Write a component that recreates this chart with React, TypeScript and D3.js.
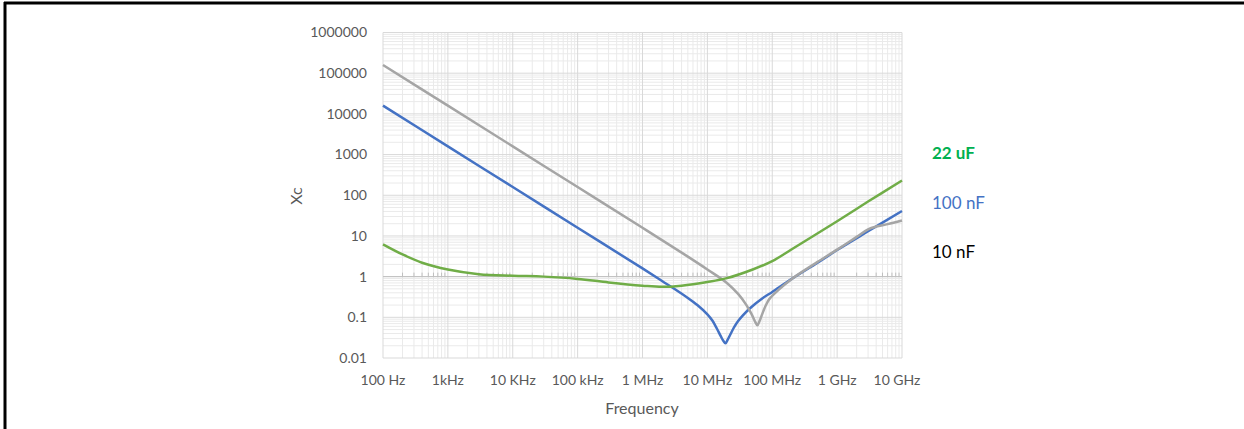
import React from "react";
import * as d3 from "d3";

// frequency (Hz) and reactance Xc (ohm)
const cap10nF: [number, number][] = [
  [1e2, 159000], [1e3, 15900], [1e4, 1590], [1e5, 159], [1e6, 15.9],
  [5e6, 3.1], [1e7, 1.5], [2e7, 0.7], [3e7, 0.37], [4e7, 0.2],
  [4.8e7, 0.12], [5.4e7, 0.08], [5.9e7, 0.064], [6.4e7, 0.082], [7e7, 0.12],
  [8e7, 0.2], [9e7, 0.28], [1.3e8, 0.5], [2e8, 0.88],
  [5e8, 2.3], [1e9, 4.6], [2e9, 9.5], [3e9, 14.5], [4e9, 17], [6e9, 19.5], [1e10, 24],
];
const cap100nF: [number, number][] = [
  [1e2, 15900], [1e3, 1590], [1e4, 159], [1e5, 15.9], [1e6, 1.59],
  [2e6, 0.78], [3e6, 0.52], [5e6, 0.3], [7e6, 0.2], [1e7, 0.118],
  [1.2e7, 0.082], [1.4e7, 0.053], [1.6e7, 0.035], [1.75e7, 0.027], [1.9e7, 0.023],
  [2.05e7, 0.028], [2.3e7, 0.04], [2.6e7, 0.058], [3e7, 0.082], [3.5e7, 0.11],
  [4.5e7, 0.165], [7e7, 0.29], [1e8, 0.42],
  [2e8, 0.88], [5e8, 2.2], [1e9, 4.5], [3e9, 13], [1e10, 41],
];
const cap22uF: [number, number][] = [
  [1e2, 6.2], [2e2, 3.5], [4e2, 2.2], [1e3, 1.5], [3e3, 1.15], [1e4, 1.05],
  [3e4, 1.0], [1e5, 0.88], [3e5, 0.72], [1e6, 0.6], [2e6, 0.56], [4e6, 0.6],
  [1e7, 0.74], [2e7, 0.92], [5e7, 1.5], [1e8, 2.4], [2e8, 4.7], [1e9, 23],
  [3e9, 70], [1e10, 230],
];

const xTickValues = [1e2, 1e3, 1e4, 1e5, 1e6, 1e7, 1e8, 1e9, 1e10];
const xTickLabels = ["100 Hz", "1kHz", "10 KHz", "100 kHz", "1 MHz", "10 MHz", "100 MHz", "1 GHz", "10 GHz"];
const yTickValues = [0.01, 0.1, 1, 10, 100, 1000, 10000, 100000, 1000000];
const yTickLabels = ["0.01", "0.1", "1", "10", "100", "1000", "10000", "100000", "1000000"];

const series = [
  { name: "100 nF", data: cap100nF, color: "#4472C4", labelColor: "#4472C4", bold: false, labelY: 203 },
  { name: "10 nF", data: cap10nF, color: "#A5A5A5", labelColor: "#000000", bold: false, labelY: 252 },
  { name: "22 uF", data: cap22uF, color: "#70AD47", labelColor: "#00B050", bold: true, labelY: 153 },
];

const W = 1244;
const H = 429;
const left = 383;
const right = 902;
const top = 32.5;
const bottom = 358;
const font = "Lato, 'Open Sans', sans-serif";

export default function App() {
  const x = d3.scaleLog().domain([1e2, 1e10]).range([left, right]);
  const y = d3.scaleLog().domain([0.01, 1e6]).range([bottom, top]);

  const minorX = xTickValues.slice(0, -1).flatMap((d) => d3.range(2, 10).map((k) => d * k));
  const minorY = yTickValues.slice(0, -1).flatMap((d) => d3.range(2, 10).map((k) => d * k));

  const line = d3
    .line<[number, number]>()
    .x((d) => x(d[0]))
    .y((d) => y(d[1]))
    .curve(d3.curveCatmullRom.alpha(0.5));

  const legendOrder = [series[2], series[0], series[1]];

  return (
    <svg width={W} height={H} style={{ position: "absolute", left: 0, top: 0, background: "#fff" }}>
      {/* frame */}
      <line x1={4} x2={W} y1={3} y2={3} stroke="#000" strokeWidth={3} />
      <line x1={5} x2={5} y1={2} y2={H} stroke="#000" strokeWidth={3} />

      {/* minor grid */}
      <g stroke="#EAEAEA" strokeWidth={1}>
        {minorX.map((d) => (
          <line key={"mx" + d} x1={x(d)} x2={x(d)} y1={top} y2={bottom} />
        ))}
        {minorY.map((d) => (
          <line key={"my" + d} x1={left} x2={right} y1={y(d)} y2={y(d)} />
        ))}
      </g>
      {/* major grid */}
      <g stroke="#D9D9D9" strokeWidth={1}>
        {xTickValues.map((d) => (
          <line key={"gx" + d} x1={x(d)} x2={x(d)} y1={top} y2={bottom} />
        ))}
        {yTickValues.map((d) => (
          <line key={"gy" + d} x1={left} x2={right} y1={y(d)} y2={y(d)} />
        ))}
      </g>

      {/* horizontal axis crossing at 1 */}
      <g stroke="#BFBFBF" strokeWidth={1}>
        <line x1={left} x2={right} y1={y(1)} y2={y(1)} />
        {minorX.map((d) => (
          <line key={"tk" + d} x1={x(d)} x2={x(d)} y1={y(1)} y2={y(1) - 4} />
        ))}
      </g>

      {/* series */}
      {series.map((s) => (
        <path key={s.name} d={line(s.data) || ""} fill="none" stroke={s.color} strokeWidth={2.5} strokeLinejoin="round" />
      ))}

      {/* tick labels */}
      <g fontFamily={font} fontSize={14} fill="#595959">
        {yTickValues.map((d, i) => (
          <text key={"yl" + d} x={left - 16} y={y(d)} dy="0.35em" textAnchor="end">
            {yTickLabels[i]}
          </text>
        ))}
        {xTickValues.map((d, i) => (
          <text key={"xl" + d} x={i === xTickValues.length - 1 ? x(d) - 5 : x(d)} y={bottom + 22} dy="0.35em" textAnchor="middle">
            {xTickLabels[i]}
          </text>
        ))}
      </g>

      {/* axis titles */}
      <text x={642} y={408} dy="0.35em" textAnchor="middle" fontFamily={font} fontSize={16} fill="#595959">
        Frequency
      </text>
      <text transform="translate(296,196) rotate(-90)" dy="0.35em" textAnchor="middle" fontFamily={font} fontSize={16} fill="#595959">
        Xc
      </text>

      {/* series labels */}
      {legendOrder.map((s) => (
        <text key={"lg" + s.name} x={932} y={s.labelY} dy="0.35em" fontFamily={font} fontSize={17} fontWeight={s.bold ? 700 : 400} fill={s.labelColor}>
          {s.name}
        </text>
      ))}
    </svg>
  );
}
